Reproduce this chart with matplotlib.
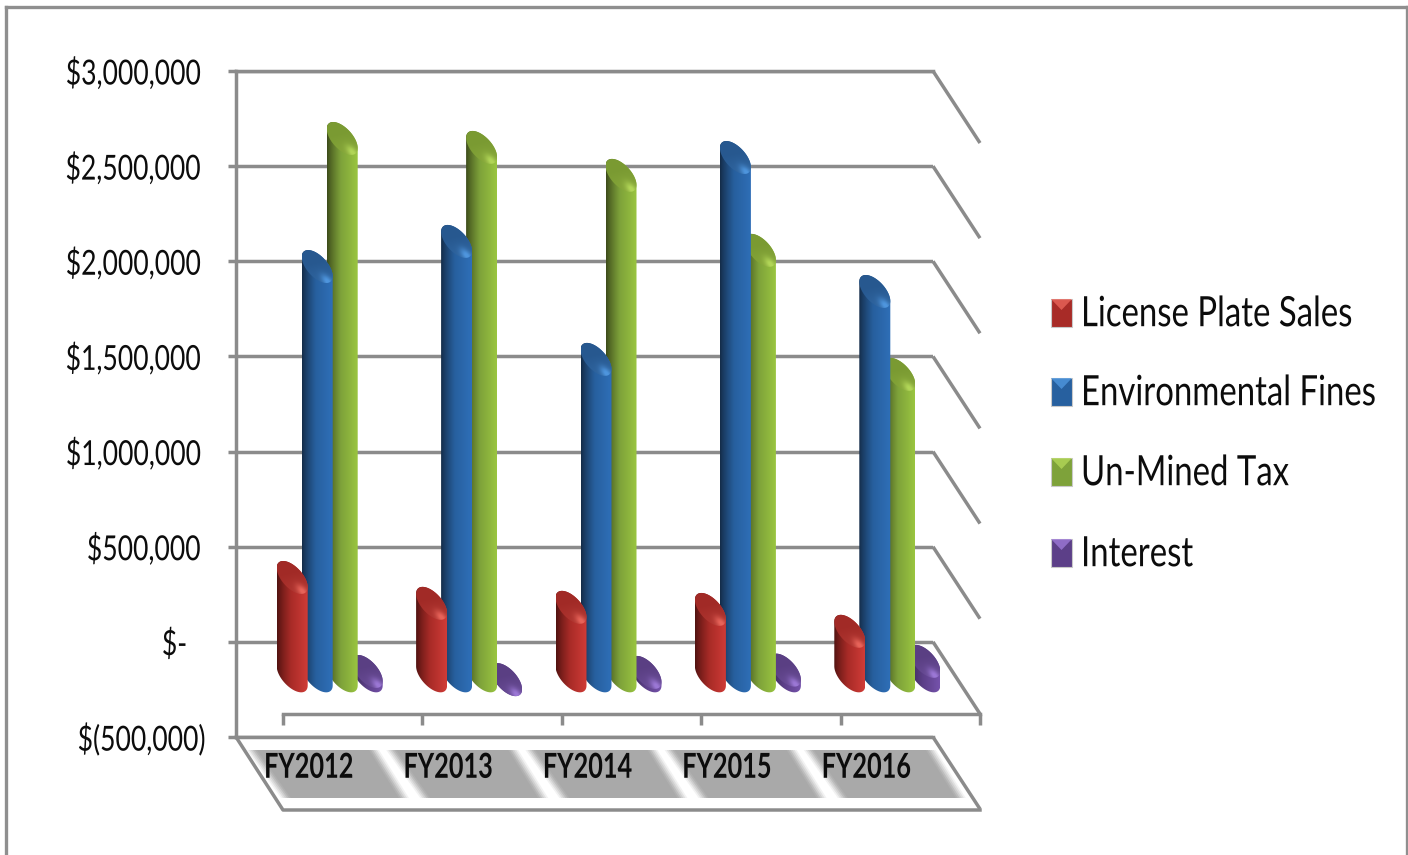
import numpy as np
import matplotlib
matplotlib.use('Agg')
import matplotlib.pyplot as plt
from matplotlib.patches import PathPatch, Polygon, Rectangle
from matplotlib.patheffects import AbstractPathEffect
from matplotlib.path import Path
from matplotlib.transforms import Affine2D

years = ['FY2012', 'FY2013', 'FY2014', 'FY2015', 'FY2016']
series_names = ['License Plate Sales', 'Environmental Fines', 'Un-Mined Tax', 'Interest']

license_plate = [517000, 381000, 360000, 349000, 234000]
env_fines = [2151000, 2283000, 1663000, 2724000, 2020000]
unmined_tax = [2824000, 2777000, 2630000, 2236000, 1584000]
interest = [23000, -20000, 18000, 30000, 76000]

y_ticks = [-500000, 0, 500000, 1000000, 1500000, 2000000, 2500000, 3000000]
y_labels = ['$(500,000)', '$-', '$500,000', '$1,000,000', '$1,500,000', '$2,000,000', '$2,500,000', '$3,000,000']

# dark side, mid, lit side, cap colour, cap rim
red_cols = ['#4f1210', '#a82b27', '#d03c37', '#a12a26', '#e8645a']
blue_cols = ['#142b47', '#27609f', '#2f6fb8', '#27588f', '#4f96de']
green_cols = ['#3c4a1a', '#7ea23a', '#9ac540', '#7a9a32', '#b2d658']
purple_cols = ['#35264f', '#5c3f88', '#7552ab', '#5a3f83', '#9c78d6']

plt.rcParams['font.family'] = ['Lato', 'DejaVu Sans']

W, H = 1408, 855
GRID = '#8b8b8b'
LW = 2.5
TEXT = '#0c0c0c'

fig = plt.figure(figsize=(W / 100, H / 100), dpi=100, facecolor='white')


class TallText(AbstractPathEffect):
    # stretches glyphs vertically about the middle of the capitals
    def __init__(self, sy):
        super().__init__()
        self.sy = sy

    def draw_path(self, renderer, gc, tpath, affine, rgbFace=None):
        stretch = Affine2D().translate(0, -36).scale(1, self.sy).translate(0, 36)
        renderer.draw_path(gc, tpath, stretch + affine, rgbFace)


# pixel-space layer for the box, the 3D walls and the legend
bg = fig.add_axes([0, 0, 1, 1])
bg.set_xlim(0, W)
bg.set_ylim(H, 0)
bg.axis('off')

x0, x1, y_top, y_bot = 236, 933, 71, 737
ax = fig.add_axes([x0 / W, (H - y_bot) / H, (x1 - x0) / W, (y_bot - y_top) / H], facecolor='none')
ax.set_xlim(0, 5)
ax.set_ylim(-500000, 3000000)
ax.set_autoscale_on(False)

px_per_usd = (y_bot - y_top) / 3500000
px_per_cat = (x1 - x0) / 5


def y_px(v):
    return y_bot - (v + 500000) * px_per_usd


# outer box
bg.plot([6, 6], [H, 7], color='#8f8f8f', lw=2.4)
bg.plot([6, 1407], [7, 7], color='#8f8f8f', lw=2.4)
bg.plot([1407, 1407], [7, H], color='#8f8f8f', lw=2.4)

# side wall, floor and label plate
depth_x, depth_y = 47, 72
for v in y_ticks:
    yp = y_px(v)
    bg.plot([x1, x1 + depth_x], [yp, yp + depth_y], color=GRID, lw=LW, solid_capstyle='butt')
y_floor = y_px(0) + depth_y
bg.plot([x0 + depth_x, x1 + depth_x], [y_floor, y_floor], color=GRID, lw=LW)
for i in range(6):
    xt = x0 + depth_x + i * (x1 - x0) / 5
    bg.plot([xt, xt], [y_floor, y_floor + 11], color=GRID, lw=LW, solid_capstyle='butt')
y_front = y_bot + depth_y + 1
bg.plot([x0, x0 + depth_x, x1 + depth_x], [y_bot, y_front, y_front], color=GRID, lw=LW)

# grey plates behind the year labels, soft on the slanted sides
for i in range(5):
    left = 250 + i * 139.2
    for inset, shade in zip([-3, -1, 1, 3, 5, 7], ['#f2f2f2', '#e0e0e0', '#cfcfcf', '#bdbdbd', '#b0b0b0', '#a9a9a9']):
        bg.add_patch(Polygon([(left + inset, 750), (left + 126 - inset, 750),
                              (left + 156 - inset, 798), (left + 34 + inset, 798)],
                             closed=True, fc=shade, ec='none'))

# value axis
ax.spines['right'].set_visible(False)
for s in ['left', 'top', 'bottom']:
    ax.spines[s].set_color(GRID)
    ax.spines[s].set_linewidth(LW)
ax.set_axisbelow(True)
ax.set_xticks([])
ax.set_yticks(y_ticks)
ax.set_yticklabels([])
ax.tick_params(axis='y', length=6, width=LW, color=GRID)
ax.grid(axis='y', color=GRID, lw=LW)

for v, lab in zip(y_ticks, y_labels):
    shift = {'$-': 49, '$(500,000)': 31}.get(lab, 36)
    ax.annotate(lab, xy=(0, v), xycoords=('axes fraction', 'data'), xytext=(-shift, 0),
                textcoords='offset pixels', ha='right', va='center_baseline', fontsize=19.1, color=TEXT,
                path_effects=[TallText(1.3)])

for i, year in enumerate(years):
    ax.annotate(year, xy=(i + 0.5, -500000), xycoords='data', xytext=(3, -28), textcoords='offset pixels',
                ha='center', va='center_baseline', fontsize=18.2, fontweight='bold', color=TEXT,
                path_effects=[TallText(1.36)])

# bars stand halfway into the floor
bar_tr = ax.transData + Affine2D().translate(24, -34)

half_w = 15.5 / px_per_cat
ell_a = 9.6 / px_per_usd
ell_b = 13.4 / px_per_usd
step = 25 / px_per_cat


def ellipse_arc(cx, cy, t0, t1, n=40):
    t = np.linspace(t0, t1, n)
    return np.column_stack([cx + half_w * np.cos(t), cy - ell_a * np.cos(t) - ell_b * np.sin(t)])


def hex_rgb(c):
    return np.array(matplotlib.colors.to_rgb(c))


def draw_bar(cx, value, cols, z):
    base = min(value, 0)
    # body: upper arc at the value, lower arc at the base
    verts = np.vstack([ellipse_arc(cx, value, np.pi, 2 * np.pi), ellipse_arc(cx, base, 0, np.pi)])
    clip = PathPatch(Path(np.vstack([verts, verts[0]]), closed=True), transform=bar_tr, fc='none', ec='none')
    ax.add_patch(clip)

    dark, mid, lit = hex_rgb(cols[0]), hex_rgb(cols[1]), hex_rgb(cols[2])
    f = np.linspace(0, 1, 64)[:, None]
    row = np.where(f < 0.45, dark + (mid - dark) * (f / 0.45) ** 0.8, mid + (lit - mid) * ((f - 0.45) / 0.55))
    extent = [cx - half_w, cx + half_w, base - ell_a - ell_b, value + ell_a + ell_b]
    im = ax.imshow(row[None, :, :], extent=extent, aspect='auto', transform=bar_tr,
                   interpolation='bilinear', zorder=z)
    im.set_clip_box(fig.bbox)
    im.set_clip_path(clip)

    # top cap with a bright patch on the near rim
    cap_verts = ellipse_arc(cx, value, 0, 2 * np.pi, 80)
    cap_clip = PathPatch(Path(cap_verts, closed=True), transform=bar_tr, fc='none', ec='none')
    ax.add_patch(cap_clip)
    xs = np.linspace(cx - half_w, cx + half_w, 60)
    ys = np.linspace(value - ell_a - ell_b, value + ell_a + ell_b, 80)
    gx, gy = np.meshgrid(xs, ys)
    c = (gx - cx) / half_w
    s = (-(gy - value) - ell_a * c) / ell_b
    glow = np.exp(-((c - 0.65) ** 2 + (s - 0.6) ** 2) / 0.16)
    rim = np.clip((c * 0.5 + s * 0.5 + 0.2), 0, 1)
    amt = np.clip(0.85 * glow + 0.25 * rim, 0, 1)[:, :, None]
    img = hex_rgb(cols[3]) + (hex_rgb(cols[4]) - hex_rgb(cols[3])) * amt
    cap = ax.imshow(img, extent=[xs[0], xs[-1], ys[0], ys[-1]], origin='lower', aspect='auto',
                    transform=bar_tr, interpolation='bilinear', zorder=z + 0.5)
    cap.set_clip_box(fig.bbox)
    cap.set_clip_path(cap_clip)


all_series = [license_plate, env_fines, unmined_tax, interest]
all_cols = [red_cols, blue_cols, green_cols, purple_cols]
for i in range(len(years)):
    # back series first so the red bar ends up in front
    for k in [3, 2, 1, 0]:
        draw_bar(i + 0.5 + (k - 1.5) * step, all_series[k][i], all_cols[k], 5 + (3 - k))

# legend
legend_y = [313, 392, 472, 553]
for name, cols, ly in zip(series_names, all_cols, legend_y):
    bg.add_patch(Rectangle((1051, ly - 14), 21, 28, fc=cols[1], ec='#c9c9c9', lw=0.8))
    bg.add_patch(Polygon([(1051, ly - 14), (1072, ly - 14), (1061.5, ly - 3)], closed=True, fc=cols[4], ec='none', alpha=0.8))
    bg.text(1081, ly - 2, name, fontsize=23.7, ha='left', va='center_baseline', color=TEXT, path_effects=[TallText(1.27)])

fig.savefig('out.png', dpi=100)
